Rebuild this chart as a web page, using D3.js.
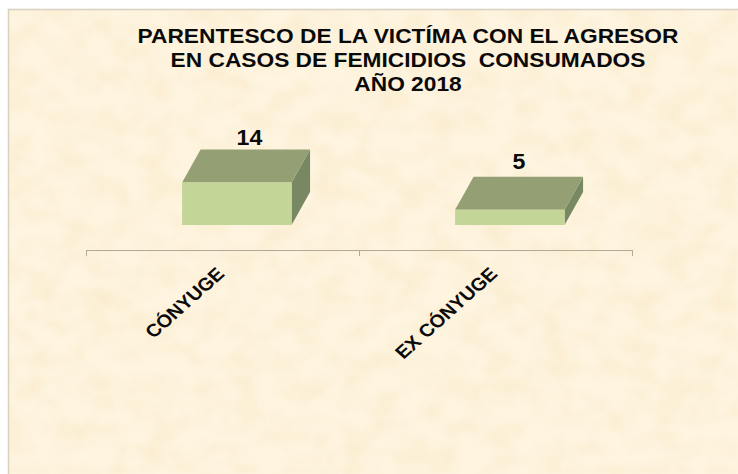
<!DOCTYPE html>
<html>
<head>
<meta charset="utf-8">
<script src="https://cdn.jsdelivr.net/npm/d3@7"></script>
<style>
    html, body { margin: 0; padding: 0; background: #ffffff; }
    svg { display: block; }
    text { font-family: "Liberation Sans", Arial, sans-serif; fill: #0a0a0a; white-space: pre; }
</style>
</head>
<body>
<svg id="chart"></svg>
<script>
// Data
const categories = ["CÓNYUGE", "EX CÓNYUGE"];
const values = [14, 5];
const titleLines = [
    "PARENTESCO DE LA VICTÍMA CON EL AGRESOR",
    "EN CASOS DE FEMICIDIOS  CONSUMADOS",
    "AÑO 2018"
];

let width = 738, height = 474;

// The original picture is stretched sideways, so the text is too
let stretch = 1.12;

let svg = d3.select('#chart')
    .attr('width', width)
    .attr('height', height);

// Parchment texture for the background
let defs = svg.append('defs');
let paper = defs.append('filter')
    .attr('id', 'paper')
    .attr('x', 0).attr('y', 0)
    .attr('width', '100%').attr('height', '100%');
paper.append('feTurbulence')
    .attr('type', 'fractalNoise')
    .attr('baseFrequency', '0.035 0.045')
    .attr('numOctaves', 3)
    .attr('seed', 7);
paper.append('feColorMatrix')
    .attr('type', 'matrix')
    .attr('values', '0 0 0 0 0.93  0 0 0 0 0.80  0 0 0 0 0.55  1.6 0 0 0 -0.62');
paper.append('feGaussianBlur').attr('stdDeviation', 1.5);

svg.append('rect')
    .attr('x', 8).attr('y', 9)
    .attr('width', width - 8).attr('height', height - 9)
    .attr('fill', '#fef4df');
svg.append('rect')
    .attr('x', 8).attr('y', 9)
    .attr('width', width - 8).attr('height', height - 9)
    .attr('filter', 'url(#paper)')
    .attr('opacity', 0.7);

// Thin grey edge of the slide
svg.append('path')
    .attr('d', `M8.5,${height}V9.5H${width}`)
    .attr('fill', 'none')
    .attr('stroke', '#d8d0c0')
    .attr('stroke-width', 1.5);

// Title
svg.append('g').selectAll('text')
    .data(titleLines)
    .enter()
    .append('text')
    .attr('transform', (d, i) => `translate(408, ${42.5 + i * 24}) scale(${stretch}, 1)`)
    .attr('text-anchor', 'middle')
    .style('font-weight', 'bold')
    .style('font-size', '20.3px')
    .text(d => d);

// Scales
let xScale = d3.scaleBand()
    .domain(categories)
    .range([86, 632]);

let yScale = d3.scaleLinear()
    .domain([0, 14])
    .range([225, 182.5]);

// Axis
let xAxis = svg.append('g')
    .attr('transform', 'translate(0, 250)')
    .call(d3.axisBottom(xScale).tickValues([]).tickSize(0));
xAxis.select('.domain').remove();

let axisColor = '#b0aa98';
xAxis.append('line')
    .attr('x1', 86).attr('x2', 632)
    .attr('y1', 0.5).attr('y2', 0.5)
    .attr('stroke', axisColor);
xAxis.selectAll('.sep')
    .data(categories.map(d => xScale(d)).concat([xScale.range()[1]]))
    .enter()
    .append('line')
    .attr('class', 'sep')
    .attr('x1', d => d + 0.5).attr('x2', d => d + 0.5)
    .attr('y1', 0).attr('y2', 6)
    .attr('stroke', axisColor);

// 3D bars
let barWidth = xScale.bandwidth() * 0.401;
let barLeft = xScale.bandwidth() * 0.352;
let depthX = 18.5, depthY = 33;

let bars = svg.selectAll('.bar')
    .data(categories.map((c, i) => ({ name: c, value: values[i] })))
    .enter()
    .append('g')
    .attr('class', 'bar');

// Right side
bars.append('path')
    .attr('fill', '#778863')
    .attr('d', d => {
        let x = xScale(d.name) + barLeft + barWidth;
        return `M${x},${yScale(d.value)}l${depthX},${-depthY}V${yScale(0) - depthY}L${x},${yScale(0)}Z`;
    });

// Top
bars.append('path')
    .attr('fill', '#959f74')
    .attr('d', d => {
        let x = xScale(d.name) + barLeft;
        return `M${x},${yScale(d.value)}l${depthX},${-depthY}h${barWidth}l${-depthX},${depthY}Z`;
    });

// Front
bars.append('rect')
    .attr('fill', '#c3d597')
    .attr('x', d => xScale(d.name) + barLeft)
    .attr('y', d => yScale(d.value))
    .attr('width', barWidth)
    .attr('height', d => yScale(0) - yScale(d.value));

// Value labels, the two sit a bit differently over their bars
let labelNudge = [{ dx: 54.5, dy: -4.5 }, { dx: 57.5, dy: -8 }];

bars.append('text')
    .attr('transform', (d, i) => `translate(${xScale(d.name) + barLeft + labelNudge[i].dx}, ${yScale(d.value) - depthY + labelNudge[i].dy}) scale(1.05, 1)`)
    .style('font-weight', 'bold')
    .style('font-size', '22px')
    .text(d => d.value);

// Category labels, rotated
svg.selectAll('.cat')
    .data(categories)
    .enter()
    .append('text')
    .attr('class', 'cat')
    .attr('text-anchor', 'end')
    .style('font-size', '18px')
    .style('font-weight', 'bold')
    .attr('transform', d => `translate(${xScale(d) + 139.5}, 275) scale(${stretch}, 1) rotate(-45)`)
    .text(d => d);
</script>
</body>
</html>
